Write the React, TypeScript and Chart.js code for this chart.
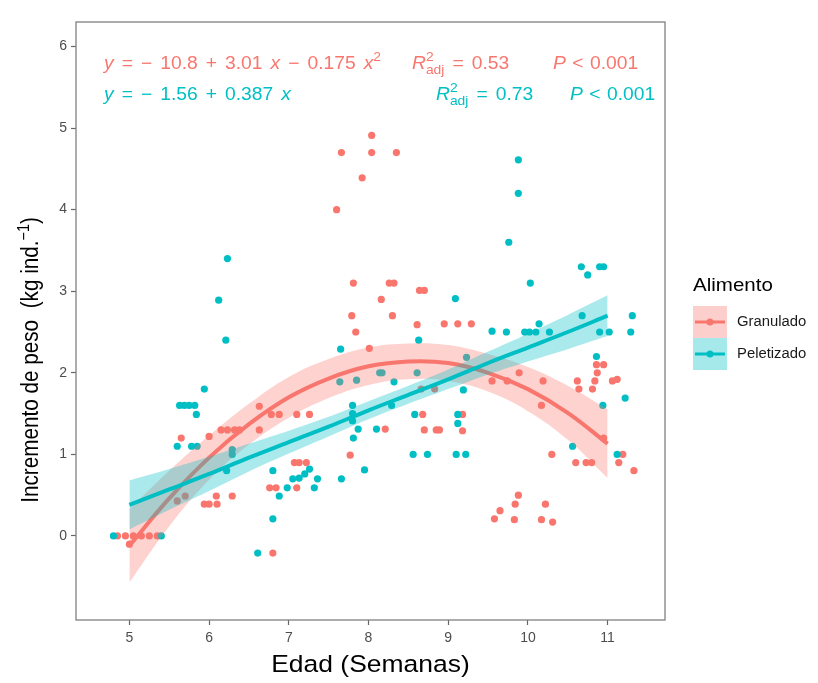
import React, { useEffect, useRef } from "react";
import { Chart, registerables } from "chart.js";

Chart.register(...registerables);

// ---------- data ----------
const granX = [4.85, 4.95, 5.05, 5.15, 5.25, 5.35, 5.0, 5.6, 5.7, 5.65, 6.0, 6.15, 6.23, 6.32, 6.38, 6.63, 6.63, 6.78, 6.88, 7.1, 7.26, 5.94, 6.0, 6.09, 6.1, 6.29, 7.22, 7.13, 7.07, 6.76, 6.84, 7.1, 6.8, 8.04, 7.66, 8.04, 8.35, 7.92, 7.6, 7.81, 8.26, 8.32, 8.64, 8.7, 8.16, 7.79, 8.3, 7.84, 8.61, 8.95, 9.12, 9.29, 8.01, 8.66, 8.83, 8.21, 7.77, 8.68, 8.7, 8.85, 8.89, 9.18, 9.18, 9.55, 10.86, 10.95, 10.87, 10.84, 10.81, 10.62, 10.64, 11.06, 11.12, 9.89, 10.19, 9.74, 10.17, 10.95, 10.3, 10.6, 10.73, 10.8, 11.19, 11.14, 11.33, 9.88, 9.84, 9.65, 10.22, 9.58, 9.83, 10.17, 10.31];
const granY = [0, 0, 0, 0, 0, 0, -0.1, 0.43, 0.49, 1.2, 1.22, 1.3, 1.3, 1.3, 1.3, 1.3, 1.59, 1.49, 1.49, 1.49, 1.49, 0.39, 0.39, 0.49, 0.39, 0.49, 0.9, 0.9, 0.9, 0.59, 0.59, 0.59, -0.21, 4.91, 4.7, 4.7, 4.7, 4.39, 4.0, 3.1, 3.1, 3.1, 3.01, 3.01, 2.9, 2.7, 2.7, 2.5, 2.59, 2.6, 2.6, 2.6, 2.3, 1.8, 1.8, 1.31, 0.99, 1.49, 1.3, 1.3, 1.3, 1.49, 1.29, 1.9, 2.1, 2.1, 2.0, 1.9, 1.8, 1.9, 1.8, 1.9, 1.92, 2.0, 1.9, 1.9, 1.6, 1.2, 1.0, 0.9, 0.9, 0.9, 1.0, 0.9, 0.8, 0.5, 0.39, 0.31, 0.39, 0.21, 0.2, 0.2, 0.17];

const peleX = [4.8, 5.4, 6.23, 6.12, 6.21, 5.94, 5.63, 5.69, 5.75, 5.82, 5.84, 5.6, 5.78, 5.85, 6.29, 6.29, 6.22, 6.8, 6.88, 6.8, 6.61, 7.26, 7.2, 7.13, 7.05, 7.36, 6.98, 7.32, 9.09, 8.63, 7.65, 7.64, 7.85, 8.14, 8.17, 8.32, 8.61, 7.8, 7.8, 7.8, 8.29, 7.87, 7.81, 8.1, 7.95, 7.66, 8.58, 8.56, 8.74, 9.1, 9.22, 9.55, 9.23, 9.19, 9.12, 9.12, 9.88, 9.88, 9.76, 10.03, 10.67, 10.75, 10.9, 10.95, 11.31, 10.68, 9.73, 9.96, 10.02, 10.1, 10.14, 10.27, 10.9, 11.02, 11.29, 10.86, 11.22, 10.94, 10.56, 11.12];
const peleY = [0, 0, 3.4, 2.89, 2.4, 1.8, 1.6, 1.6, 1.6, 1.6, 1.49, 1.1, 1.1, 1.1, 1.0, 1.06, 0.8, 0.8, 0.49, 0.21, -0.21, 0.82, 0.76, 0.71, 0.7, 0.7, 0.59, 0.59, 2.91, 2.4, 2.29, 1.89, 1.91, 2.0, 2.0, 1.89, 2.0, 1.6, 1.5, 1.41, 1.6, 1.31, 1.2, 1.31, 0.81, 0.7, 1.49, 1.0, 1.0, 1.0, 1.0, 2.51, 2.19, 1.79, 1.49, 1.38, 4.61, 4.2, 3.6, 3.1, 3.3, 3.2, 3.3, 3.3, 2.7, 2.7, 2.5, 2.5, 2.5, 2.5, 2.6, 2.5, 2.5, 2.5, 2.5, 2.2, 1.69, 1.6, 1.1, 1.0];

// fitted curves and confidence bands, read at these ages
const fitX = [5, 5.5, 6, 6.5, 7, 7.5, 8, 8.5, 9, 9.5, 10, 10.5, 11];
const granFit = [-0.12, 0.46, 0.96, 1.37, 1.7, 1.93, 2.08, 2.14, 2.12, 2.0, 1.8, 1.51, 1.13];
const granLo = [-0.57, 0.12, 0.69, 1.12, 1.45, 1.69, 1.85, 1.92, 1.9, 1.77, 1.53, 1.18, 0.71];
const granHi = [0.33, 0.8, 1.23, 1.62, 1.95, 2.17, 2.31, 2.36, 2.34, 2.23, 2.07, 1.84, 1.55];
const peleFit = [0.38, 0.57, 0.76, 0.96, 1.15, 1.34, 1.54, 1.73, 1.92, 2.12, 2.31, 2.5, 2.7];
const peleLo = [0.08, 0.32, 0.55, 0.79, 1.01, 1.22, 1.43, 1.62, 1.8, 1.98, 2.14, 2.29, 2.45];
const peleHi = [0.68, 0.82, 0.97, 1.13, 1.29, 1.46, 1.65, 1.84, 2.04, 2.26, 2.48, 2.71, 2.95];

const xTicks = [5, 6, 7, 8, 9, 10, 11];
const yTicks = [0, 1, 2, 3, 4, 5, 6];
const groups = ["Granulado", "Peletizado"];
const legendTitle = "Alimento";
const xTitle = "Edad (Semanas)";
const yTitleMain = "Incremento de peso  (kg ind.";
const yTitleSup = "\u22121";
const yTitleEnd = ")";
const granEq = { a: "\u2212 10.8", b: "3.01", c: "\u2212 0.175", r2: "0.53", p: "0.001" };
const peleEq = { a: "\u2212 1.56", b: "0.387", r2: "0.73", p: "0.001" };

const RED = "#F8766D";
const TEAL = "#00BFC4";
const FONT = "'Liberation Sans', Arial, Helvetica, sans-serif";
const HS = 1.07; // slight horizontal stretch of equation text

type Tok = { t?: string; it?: boolean; sup?: string; sub?: string };

function drawRich(ctx: CanvasRenderingContext2D, x: number, y: number, toks: Tok[], size: number, color: string, extra: number) {
  ctx.save();
  ctx.translate(x, y);
  ctx.scale(HS, 1);
  let cx = 0;
  ctx.fillStyle = color;
  ctx.textBaseline = "alphabetic";
  ctx.textAlign = "left";
  for (const tok of toks) {
    if (tok.sup !== undefined || tok.sub !== undefined) {
      const s = size * 0.72;
      ctx.font = `${s}px ${FONT}`;
      let w = 0;
      if (tok.sup !== undefined) {
        ctx.fillText(tok.sup, cx, -size * 0.42);
        w = Math.max(w, ctx.measureText(tok.sup).width);
      }
      if (tok.sub !== undefined) {
        ctx.fillText(tok.sub, cx, size * 0.3);
        w = Math.max(w, ctx.measureText(tok.sub).width);
      }
      cx += w;
    } else if (tok.t !== undefined) {
      ctx.font = `${tok.it ? "italic " : ""}${size}px ${FONT}`;
      const sp = ctx.measureText(" ").width + extra;
      const parts = tok.t.split(" ");
      parts.forEach((p, i) => {
        if (i > 0) cx += sp;
        if (p) {
          ctx.fillText(p, cx, 0);
          cx += ctx.measureText(p).width;
        }
      });
    }
  }
  ctx.restore();
}

function stretchText(ctx: CanvasRenderingContext2D, text: string, x: number, y: number, sx: number) {
  ctx.save();
  ctx.translate(x, y);
  ctx.scale(sx, 1);
  ctx.fillText(text, 0, 0);
  ctx.restore();
}

const decor = {
  id: "decor",
  afterDraw(chart: any) {
    const ctx: CanvasRenderingContext2D = chart.ctx;
    const a = chart.chartArea;
    ctx.save();
    // panel border
    ctx.strokeStyle = "#808080";
    ctx.lineWidth = 1.3;
    ctx.strokeRect(a.left, a.top, a.right - a.left, a.bottom - a.top);

    // equations
    const fs = 18;
    drawRich(ctx, 104, 69, [
      { t: "y", it: true }, { t: " = " + granEq.a + " + " + granEq.b + " " }, { t: "x", it: true },
      { t: " " + granEq.c + " " }, { t: "x", it: true }, { sup: "2" },
    ], fs, RED, 2.5);
    drawRich(ctx, 412, 69, [{ t: "R", it: true }, { sup: "2", sub: "adj" }, { t: " = " + granEq.r2 }], fs, RED, 2.5);
    drawRich(ctx, 553, 69, [{ t: "P", it: true }, { t: " < " + granEq.p }], fs, RED, 1);

    drawRich(ctx, 104, 100, [
      { t: "y", it: true }, { t: " = " + peleEq.a + " + " + peleEq.b + " " }, { t: "x", it: true },
    ], fs, TEAL, 2.5);
    drawRich(ctx, 436, 100, [{ t: "R", it: true }, { sup: "2", sub: "adj" }, { t: " = " + peleEq.r2 }], fs, TEAL, 2.5);
    drawRich(ctx, 570, 100, [{ t: "P", it: true }, { t: " < " + peleEq.p }], fs, TEAL, 1);

    // x title
    ctx.fillStyle = "#000";
    ctx.font = `24.5px ${FONT}`;
    ctx.textBaseline = "middle";
    ctx.textAlign = "center";
    stretchText(ctx, xTitle, (a.left + a.right) / 2, 665, 1.08);

    // y title (rotated)
    ctx.save();
    ctx.translate(30, 360);
    ctx.rotate(-Math.PI / 2);
    ctx.scale(0.9, 1);
    ctx.font = `23px ${FONT}`;
    const w1 = ctx.measureText(yTitleMain).width;
    ctx.font = `16px ${FONT}`;
    const w2 = ctx.measureText(yTitleSup).width;
    ctx.font = `23px ${FONT}`;
    const w3 = ctx.measureText(yTitleEnd).width;
    let sx = -(w1 + w2 + w3) / 2;
    ctx.textAlign = "left";
    ctx.textBaseline = "alphabetic";
    ctx.fillText(yTitleMain, sx, 8);
    sx += w1;
    ctx.font = `16px ${FONT}`;
    ctx.fillText(yTitleSup, sx, -1);
    sx += w2;
    ctx.font = `23px ${FONT}`;
    ctx.fillText(yTitleEnd, sx, 8);
    ctx.restore();

    // legend
    ctx.fillStyle = "#000";
    ctx.font = `19px ${FONT}`;
    ctx.textAlign = "left";
    ctx.textBaseline = "middle";
    stretchText(ctx, legendTitle, 693, 286, 1.08);
    const cols = [RED, TEAL];
    const fills = ["rgba(248,118,109,0.35)", "rgba(0,191,196,0.35)"];
    groups.forEach((g, i) => {
      const top = 306 + i * 32;
      ctx.fillStyle = fills[i];
      ctx.fillRect(693, top, 34, 32);
      const cy = top + 16;
      ctx.strokeStyle = cols[i];
      ctx.lineWidth = 3;
      ctx.beginPath();
      ctx.moveTo(695, cy);
      ctx.lineTo(725, cy);
      ctx.stroke();
      ctx.fillStyle = cols[i];
      ctx.beginPath();
      ctx.arc(710, cy, 3.5, 0, Math.PI * 2);
      ctx.fill();
      ctx.fillStyle = "#1a1a1a";
      ctx.font = `14px ${FONT}`;
      stretchText(ctx, g, 737, cy, 1.06);
    });
    ctx.restore();
  },
};

export default function App() {
  const ref = useRef<HTMLCanvasElement>(null);
  useEffect(() => {
    if (!ref.current) return;
    const pts = (xs: number[], ys: number[]) => xs.map((x, i) => ({ x, y: ys[i] }));
    const band = (ys: number[]) => fitX.map((x, i) => ({ x, y: ys[i] }));
    const chart = new Chart(ref.current, {
      type: "scatter",
      data: {
        datasets: [
          { label: groups[0], data: pts(granX, granY), backgroundColor: RED, borderWidth: 0, pointRadius: 3.6, order: 10 } as any,
          { label: groups[1], data: pts(peleX, peleY), backgroundColor: TEAL, borderWidth: 0, pointRadius: 3.6, order: 9 } as any,
          { data: band(granHi), showLine: true, borderWidth: 0, pointRadius: 0, tension: 0.4, fill: false, order: 8 } as any,
          { data: band(granLo), showLine: true, borderWidth: 0, pointRadius: 0, tension: 0.4, fill: "-1", backgroundColor: "rgba(248,118,109,0.33)", order: 7 } as any,
          { data: band(granFit), showLine: true, borderColor: RED, borderWidth: 4, pointRadius: 0, tension: 0.4, order: 6 } as any,
          { data: band(peleHi), showLine: true, borderWidth: 0, pointRadius: 0, tension: 0.4, fill: false, order: 5 } as any,
          { data: band(peleLo), showLine: true, borderWidth: 0, pointRadius: 0, tension: 0.4, fill: "-1", backgroundColor: "rgba(0,191,196,0.33)", order: 4 } as any,
          { data: band(peleFit), showLine: true, borderColor: TEAL, borderWidth: 4, pointRadius: 0, tension: 0.4, order: 3 } as any,
        ],
      },
      options: {
        responsive: false,
        animation: false,
        layout: { padding: { left: 0, top: 22, right: 153, bottom: 0 } },
        plugins: { legend: { display: false }, tooltip: { enabled: false } },
        scales: {
          x: {
            type: "linear",
            min: 4.33,
            max: 11.72,
            afterBuildTicks: (s: any) => { s.ticks = xTicks.map((v) => ({ value: v })); },
            afterFit: (s: any) => { s.height = 63; },
            grid: { drawOnChartArea: false, drawTicks: true, tickLength: 5, tickColor: "#666", tickWidth: 1.2 },
            border: { display: false },
            ticks: { color: "#4d4d4d", font: { size: 14, family: FONT }, padding: 5, maxRotation: 0 },
          },
          y: {
            type: "linear",
            min: -1.03,
            max: 6.3,
            afterBuildTicks: (s: any) => { s.ticks = yTicks.map((v) => ({ value: v })); },
            afterFit: (s: any) => { s.width = 76; },
            grid: { drawOnChartArea: false, drawTicks: true, tickLength: 5, tickColor: "#666", tickWidth: 1.2 },
            border: { display: false },
            ticks: { color: "#4d4d4d", font: { size: 14, family: FONT }, padding: 4 },
          },
        },
      },
      plugins: [decor],
    });
    return () => chart.destroy();
  }, []);
  return (
    <div style={{ position: "absolute", left: 0, top: 0, width: 818, height: 683, background: "#fff" }}>
      <canvas ref={ref} width={818} height={683} style={{ display: "block" }} />
    </div>
  );
}
